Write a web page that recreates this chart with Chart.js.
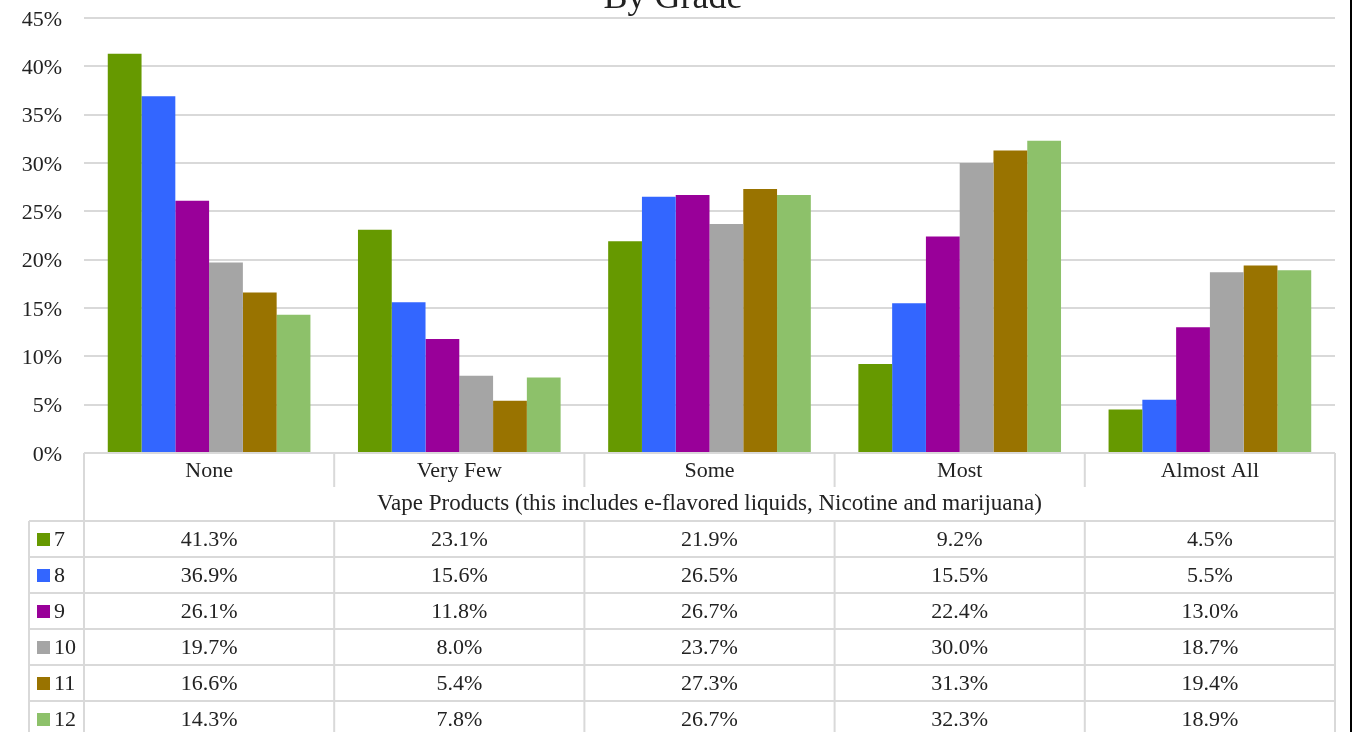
<!DOCTYPE html>
<html>
<head>
<meta charset="utf-8">
<script src="https://cdn.jsdelivr.net/npm/chart.js@4"></script>
<style>
html,body{margin:0;padding:0;background:#fff;overflow:hidden;}
canvas{display:block;}
</style>
</head>
<body>
<canvas id="c" width="1353" height="732"></canvas>
<script>
const titleText = 'By Grade';
const tableCaption = 'Vape Products (this includes e-flavored liquids, Nicotine and marijuana)';
const categories = ['None', 'Very Few', 'Some', 'Most', 'Almost All'];
const grades = ['7', '8', '9', '10', '11', '12'];
const grade7  = [41.3, 23.1, 21.9, 9.2, 4.5];
const grade8  = [36.9, 15.6, 26.5, 15.5, 5.5];
const grade9  = [26.1, 11.8, 26.7, 22.4, 13.0];
const grade10 = [19.7, 8.0, 23.7, 30.0, 18.7];
const grade11 = [16.6, 5.4, 27.3, 31.3, 19.4];
const grade12 = [14.3, 7.8, 26.7, 32.3, 18.9];
const colors = ['#669900', '#3366FF', '#990099', '#A5A5A5', '#997300', '#8DC16A'];

const seriesValues = [grade7, grade8, grade9, grade10, grade11, grade12];
const FONT = '"Liberation Serif", "Times New Roman", serif';
const TEXT = '#222222';
const LINE = '#D9D9D9';

const tablePlugin = {
  id: 'tablePlugin',
  afterDraw(chart) {
    const ctx = chart.ctx;
    const x = chart.scales.x;
    const area = chart.chartArea;
    const n = categories.length;
    const catW = (area.right - area.left) / n;
    const top = area.bottom;
    const headerH = 34, capH = 34, rowH = 36;
    const legendLeft = 29;
    const capTop = top + headerH;
    const rowsTop = capTop + capH;
    const bottom = rowsTop + rowH * grades.length;

    ctx.save();
    ctx.fillStyle = TEXT;
    ctx.font = '36px ' + FONT;
    ctx.textAlign = 'center';
    ctx.textBaseline = 'alphabetic';
    ctx.fillText(titleText, 673, 8);

    ctx.strokeStyle = LINE;
    ctx.lineWidth = 2;
    ctx.beginPath();
    for (let i = 0; i <= n; i++) {
      const px = area.left + i * catW;
      const endY = (i === 0 || i === n) ? bottom : capTop;
      ctx.moveTo(px, top); ctx.lineTo(px, endY);
    }
    ctx.moveTo(legendLeft, rowsTop); ctx.lineTo(legendLeft, bottom);
    ctx.moveTo(legendLeft, rowsTop); ctx.lineTo(area.right, rowsTop);
    for (let r = 1; r <= grades.length; r++) {
      const y = rowsTop + r * rowH;
      ctx.moveTo(legendLeft, y); ctx.lineTo(area.right, y);
    }
    for (let i = 1; i < n; i++) {
      const px = area.left + i * catW;
      ctx.moveTo(px, rowsTop); ctx.lineTo(px, bottom);
    }
    ctx.stroke();

    ctx.fillStyle = TEXT;
    ctx.font = '22px ' + FONT;
    ctx.textAlign = 'center';
    ctx.textBaseline = 'middle';
    categories.forEach((c, i) => {
      ctx.fillText(c, x.getPixelForValue(i), top + headerH / 2 + 1);
    });
    ctx.font = '23px ' + FONT;
    ctx.fillText(tableCaption, (area.left + area.right) / 2, capTop + capH / 2);
    ctx.font = '22px ' + FONT;
    grades.forEach((g, r) => {
      const cy = rowsTop + r * rowH + rowH / 2 + 1;
      seriesValues[r].forEach((v, i) => {
        ctx.fillText(v.toFixed(1) + '%', x.getPixelForValue(i), cy);
      });
      ctx.fillStyle = colors[r];
      ctx.fillRect(37, cy - 7, 13, 13);
      ctx.fillStyle = TEXT;
      ctx.textAlign = 'left';
      ctx.fillText(g, 54, cy);
      ctx.textAlign = 'center';
    });

    ctx.fillStyle = '#000';
    ctx.fillRect(1350, 0, 2, chart.height);
    ctx.restore();
  }
};

new Chart(document.getElementById('c'), {
  type: 'bar',
  data: {
    labels: categories,
    datasets: grades.map((g, i) => ({
      label: g,
      data: seriesValues[i],
      backgroundColor: colors[i],
      borderWidth: 0,
      barPercentage: 1.0,
      categoryPercentage: 0.81
    }))
  },
  options: {
    responsive: false,
    animation: false,
    devicePixelRatio: 1,
    layout: { padding: { left: 0, right: 18, top: 18, bottom: 279 } },
    plugins: { legend: { display: false }, tooltip: { enabled: false }, title: { display: false } },
    scales: {
      x: { display: false, grid: { display: false } },
      y: {
        min: 0, max: 45,
        afterFit(scale) { scale.width = 84; scale.paddingTop = 0; scale.paddingBottom = 0; },
        border: { display: false },
        grid: { color: LINE, lineWidth: 2, drawTicks: false },
        ticks: {
          stepSize: 5,
          padding: 22,
          labelOffset: 2,
          color: TEXT,
          font: { family: FONT, size: 22 },
          callback: v => v + '%'
        }
      }
    }
  },
  plugins: [tablePlugin]
});
</script>
</body>
</html>
